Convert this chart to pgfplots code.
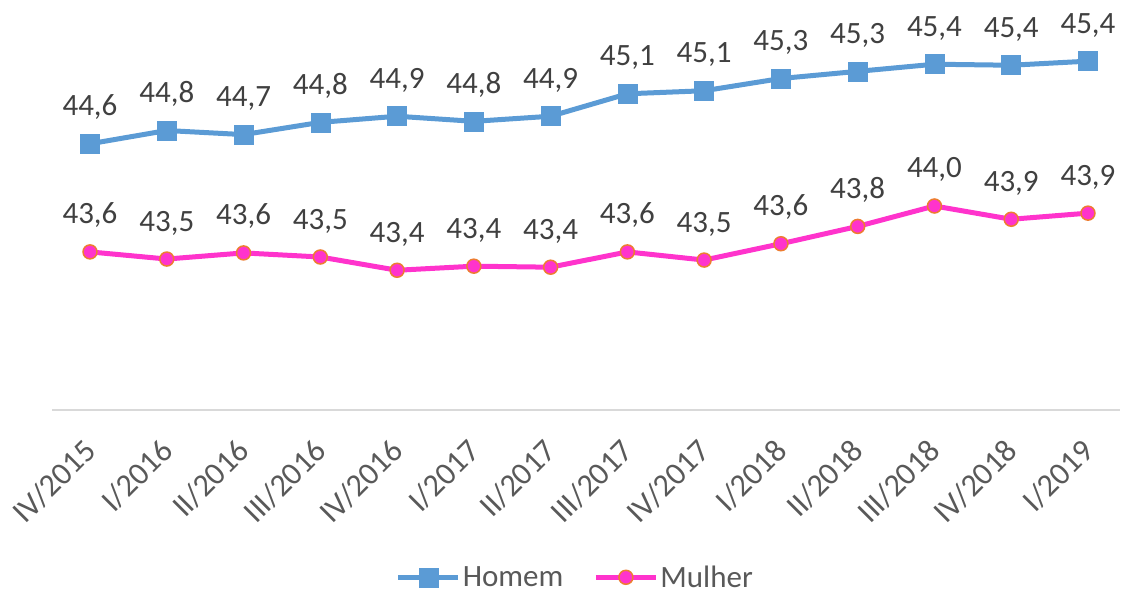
\documentclass[border=0pt]{standalone}
\usepackage{pgfplots}
\pgfplotsset{compat=1.18}
\usepackage{pgfplotstable}
\usepackage{fontspec}
\setmainfont{Carlito}

\definecolor{hblue}{HTML}{5B9BD5}
\definecolor{mpink}{HTML}{FF33CC}
\definecolor{morange}{HTML}{ED7D31}
\definecolor{lbl}{HTML}{404040}
\definecolor{tck}{HTML}{595959}
\definecolor{axl}{HTML}{D9D9D9}

% rendimento medio
\pgfplotstableread{
x homem hl mulher ml
0  44.61 44,6 43.55 43,6
1  44.74 44,8 43.48 43,5
2  44.70 44,7 43.54 43,6
3  44.82 44,8 43.50 43,5
4  44.88 44,9 43.37 43,4
5  44.83 44,8 43.41 43,4
6  44.88 44,9 43.40 43,4
7  45.10 45,1 43.55 43,6
8  45.13 45,1 43.47 43,5
9  45.25 45,3 43.63 43,6
10 45.32 45,3 43.80 43,8
11 45.39 45,4 44.00 44,0
12 45.38 45,4 43.87 43,9
13 45.42 45,4 43.93 43,9
}\data

\begin{document}
\begin{tikzpicture}
\begin{axis}[
  name=ax,
  scale only axis,
  width=1068bp, height=408bp,
  xmin=-0.495, xmax=13.417,
  ymin=42, ymax=46,
  clip=false,
  axis y line=none,
  axis x line*=bottom,
  x axis line style={draw=axl, line width=1.5bp, -},
  xtick={0,...,13},
  xticklabels={IV/2015,I/2016,II/2016,III/2016,IV/2016,I/2017,II/2017,III/2017,IV/2017,I/2018,II/2018,III/2018,IV/2018,I/2019},
  major tick length=0pt,
  xticklabel style={xshift=-8bp, yshift=-24bp, rotate=45, anchor=north east, text=tck, font=\fontsize{32bp}{38bp}\selectfont, inner sep=2bp},
  nodes near coords,
  point meta=explicit symbolic,
  every node near coord/.append style={anchor=base, yshift=28bp, text=lbl, font=\fontsize{31bp}{37bp}\selectfont},
  legend style={at={(0.49,-0.41)}, anchor=center, draw=none, fill=none,
    legend columns=2, font=\fontsize{31bp}{37bp}\selectfont, text=tck,
    /tikz/every even column/.append style={column sep=28bp}},
  legend image code/.code={\draw[mark repeat=2, mark phase=2] plot coordinates {(0bp,0bp) (30bp,0bp) (60bp,0bp)};},
]
\addplot[color=hblue, line width=5bp, mark=square*, mark size=9.5bp,
  mark options={fill=hblue, draw=hblue, line width=0.5bp}]
  table[x=x, y=homem, meta=hl] {\data};
\addlegendentry{Homem}
\addplot[color=mpink, line width=5bp, mark=*, mark size=7bp,
  mark options={fill=mpink, draw=morange, line width=1.5bp}]
  table[x=x, y=mulher, meta=ml] {\data};
\addlegendentry{Mulher}
\end{axis}
\pgfresetboundingbox
\path (ax.south west) ++(-52bp,-180bp) rectangle ++(1122bp,590bp);
\end{tikzpicture}
\end{document}
